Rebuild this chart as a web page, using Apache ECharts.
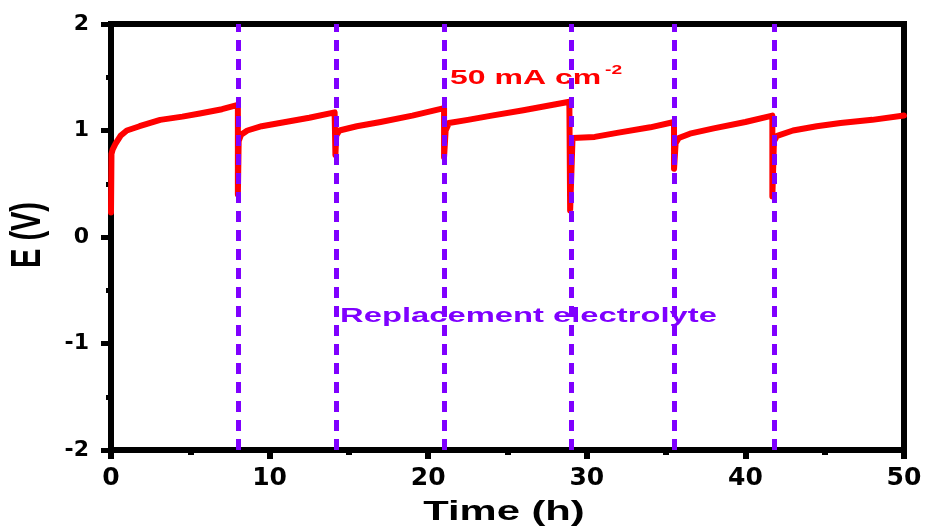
<!DOCTYPE html>
<html>
<head>
<meta charset="utf-8">
<script src="https://cdn.jsdelivr.net/npm/echarts@6/dist/echarts.min.js"></script>
<style>html,body{margin:0;padding:0;background:#fff;}#c{width:925px;height:526px;}</style>
</head>
<body>
<div id="c"></div>
<script>
var timeH = [0, 0.03, 0.1, 0.3, 0.6, 1.0, 1.8, 3.1, 4.5, 5.6, 7, 8.0,
  8.0, 8.05, 8.2, 8.6, 9.5, 11, 12.5, 14.1,
  14.15, 14.2, 14.4, 15.5, 17, 19, 21.0,
  21.0, 21.1, 21.3, 22.5, 24, 26, 28.9,
  28.95, 29.1, 30.5, 32, 34, 35.5,
  35.5, 35.6, 35.8, 36.5, 38, 40, 41.7,
  41.7, 41.8, 42, 43, 44.5, 46, 48, 50];
var potentialV = [0.23, 0.78, 0.82, 0.88, 0.95, 1.0, 1.04, 1.1, 1.13, 1.16, 1.2, 1.24,
  0.4, 0.9, 0.96, 1.0, 1.04, 1.08, 1.12, 1.17,
  0.77, 0.95, 1.0, 1.04, 1.08, 1.14, 1.21,
  0.75, 1.0, 1.07, 1.1, 1.14, 1.19, 1.27,
  0.25, 0.93, 0.94, 0.98, 1.03, 1.08,
  0.64, 0.88, 0.93, 0.97, 1.02, 1.08, 1.14,
  0.38, 0.9, 0.95, 1.0, 1.04, 1.07, 1.1, 1.14];
var replacementTimes = [8.0, 14.2, 21.0, 29.0, 35.5, 41.8];
var xTicks = [0, 10, 20, 30, 40, 50];
var yTicks = [-2, -1, 0, 1, 2];
var currentLabel = '50 mA cm';
var currentSup = '-2';
var annotationText = 'Replacement electrolyte';
var xTitle = 'Time (h)';
var yTitle = 'E (V)';

var lineData = timeH.map(function (t, i) { return [t, potentialV[i]]; });

var chart = echarts.init(document.getElementById('c'), null, {renderer: 'canvas'});
var axisLineStyle = {color: '#000', width: 6, cap: 'square'};
var tickFont = {color: '#000', fontFamily: 'DejaVu Sans', fontWeight: 'bold'};
chart.setOption({
  animation: false,
  backgroundColor: '#fff',
  grid: {left: 111, right: 21, top: 24, bottom: 76, containLabel: false},
  xAxis: [{
    type: 'value', min: xTicks[0], max: xTicks[xTicks.length - 1], interval: 10,
    position: 'bottom',
    axisLine: {show: true, onZero: false, lineStyle: axisLineStyle},
    axisTick: {show: true, inside: false, length: 9, lineStyle: {width: 6, color: '#000'}},
    minorTick: {show: true, splitNumber: 2, length: 5, lineStyle: {width: 6, color: '#000'}},
    splitLine: {show: false},
    axisLabel: Object.assign({fontSize: 25, margin: 16}, tickFont)
  }, {
    type: 'value', min: 0, max: 50, position: 'top',
    axisLine: {show: true, onZero: false, lineStyle: axisLineStyle},
    axisTick: {show: false}, axisLabel: {show: false}, splitLine: {show: false}
  }],
  yAxis: [{
    type: 'value', min: yTicks[0], max: yTicks[yTicks.length - 1], interval: 1,
    position: 'left',
    axisLine: {show: true, onZero: false, lineStyle: axisLineStyle},
    axisTick: {show: true, inside: false, length: 10, lineStyle: {width: 5, color: '#000'}},
    minorTick: {show: true, splitNumber: 2, length: 5, lineStyle: {width: 5, color: '#000'}},
    splitLine: {show: false},
    axisLabel: Object.assign({fontSize: 22, margin: 22}, tickFont)
  }, {
    type: 'value', min: -2, max: 2, position: 'right',
    axisLine: {show: true, onZero: false, lineStyle: axisLineStyle},
    axisTick: {show: false}, axisLabel: {show: false}, splitLine: {show: false}
  }],
  series: [{
    type: 'line',
    data: lineData,
    showSymbol: false,
    symbol: 'none',
    lineStyle: {color: '#FF0000', width: 6, join: 'round', cap: 'round'},
    z: 2
  }, {
    type: 'line',
    data: [],
    z: 5,
    markLine: {
      silent: true,
      symbol: ['none', 'none'],
      label: {show: false},
      lineStyle: {color: '#7F00FF', width: 5, type: [11, 8]},
      data: replacementTimes.map(function (t) { return {xAxis: t}; })
    }
  }],
  graphic: [{
    type: 'text', x: 504, y: 512, scaleX: 1.49, scaleY: 1,
    style: {text: xTitle, font: 'bold 28px "Liberation Sans", Arial, sans-serif', fill: '#000', align: 'center', verticalAlign: 'middle'}
  }, {
    type: 'text', x: 28, y: 235, rotation: Math.PI / 2, scaleX: 0.69, scaleY: 1,
    style: {text: yTitle, font: 'bold 42px "Liberation Sans", Arial, sans-serif', fill: '#000', align: 'center', verticalAlign: 'middle'}
  }, {
    type: 'text', x: 450, y: 78, scaleX: 1.6, scaleY: 1,
    style: {text: currentLabel, font: 'bold 20px "Liberation Sans", Arial, sans-serif', fill: '#FF0000', align: 'left', verticalAlign: 'middle'}
  }, {
    type: 'text', x: 605, y: 71, scaleX: 1.6, scaleY: 1,
    style: {text: currentSup, font: 'bold 12px "Liberation Sans", Arial, sans-serif', fill: '#FF0000', align: 'left', verticalAlign: 'middle'}
  }, {
    type: 'text', x: 340, y: 316, scaleX: 1.56, scaleY: 1,
    style: {text: annotationText, font: 'bold 21px "Liberation Sans", Arial, sans-serif', fill: '#7F00FF', align: 'left', verticalAlign: 'middle'}
  }]
});
</script>
</body>
</html>
